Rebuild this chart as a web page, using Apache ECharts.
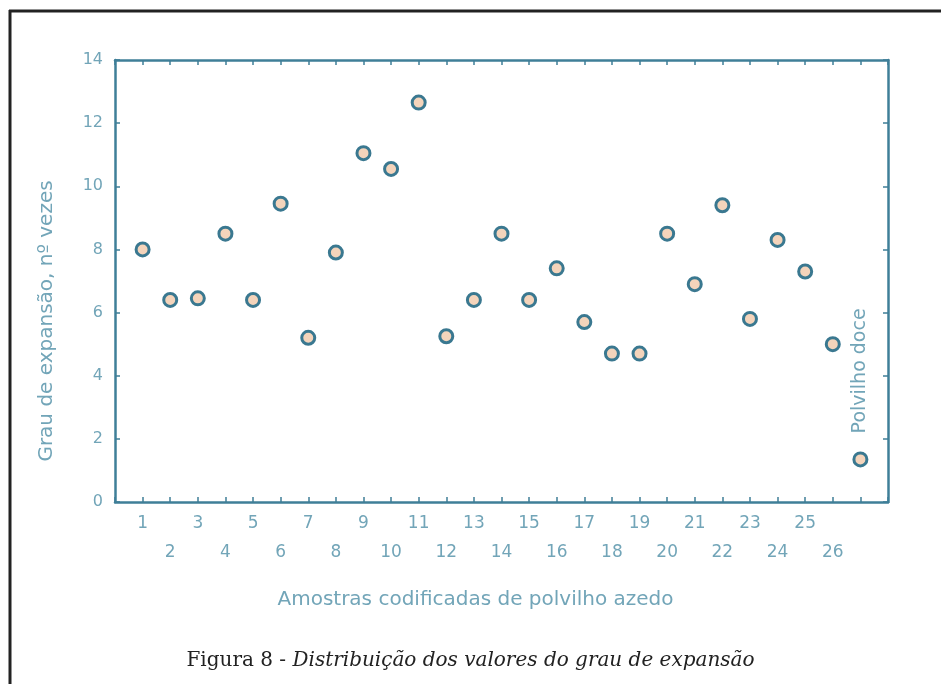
<!DOCTYPE html>
<html>
<head>
<meta charset="utf-8">
<script src="https://cdn.jsdelivr.net/npm/echarts@6/dist/echarts.min.js"></script>
<style>
  html, body { margin: 0; padding: 0; background: #fff; }
  #chart { width: 941px; height: 684px; }
</style>
</head>
<body>
<div id="chart"></div>
<script>
// amostras codificadas de polvilho azedo (1..26) + polvilho doce
const sampleIds = [1, 2, 3, 4, 5, 6, 7, 8, 9, 10, 11, 12, 13, 14, 15, 16, 17, 18, 19, 20, 21, 22, 23, 24, 25, 26];
const expansao = [8.0, 6.4, 6.45, 8.5, 6.4, 9.45, 5.2, 7.9, 11.05, 10.55, 12.65, 5.25, 6.4, 8.5, 6.4, 7.4, 5.7, 4.7, 4.7, 8.5, 6.9, 9.4, 5.8, 8.3, 7.3, 5.0];
const doceX = [27];
const doceValor = [1.35];
const yTicks = [0, 2, 4, 6, 8, 10, 12, 14];

const axisColor = '#3f7f98';
const textColor = '#72a5b8';

const chart = echarts.init(document.getElementById('chart'));

// pontos como pares [x, y]
const azedoData = sampleIds.map((id, i) => [id, expansao[i]]);
const doceData = doceX.map((x, i) => [x, doceValor[i]]);

const frameAxis = {
  axisLine: { show: true, onZero: false, lineStyle: { color: axisColor, width: 2.5 } },
  axisTick: { show: true, inside: true, length: 5, lineStyle: { color: axisColor, width: 1.5 } },
  splitLine: { show: false }
};

chart.setOption({
  animation: false,
  grid: { left: 115, top: 60, right: 53, bottom: 182 },
  graphic: [
    // moldura da figura (so esquerda e topo aparecem)
    { type: 'line', shape: { x1: 10, y1: 10, x2: 10, y2: 684 }, style: { stroke: '#222', lineWidth: 3 } },
    { type: 'line', shape: { x1: 9, y1: 11, x2: 941, y2: 11 }, style: { stroke: '#222', lineWidth: 3 } },
    {
      type: 'text', left: 'center', top: 651,
      style: {
        text: '{n|Figura 8 - }{i|Distribuição dos valores do grau de expansão}',
        rich: {
          n: { fontFamily: 'DejaVu Serif', fontSize: 20, fill: '#222' },
          i: { fontFamily: 'DejaVu Serif', fontStyle: 'italic', fontSize: 20, fill: '#222' }
        }
      }
    }
  ],
  xAxis: [
    Object.assign({
      type: 'value', min: 0, max: 28, interval: 1, position: 'bottom',
      name: 'Amostras codificadas de polvilho azedo',
      nameLocation: 'middle', nameGap: 88,
      nameTextStyle: { color: textColor, fontSize: 20, fontFamily: 'DejaVu Sans', padding: [0, 52, 0, 0] },
      axisLabel: {
        color: textColor, fontSize: 17, fontFamily: 'DejaVu Sans', margin: 7, lineHeight: 29,
        formatter: function (v) {
          if (v < 1 || v > 26) return '';
          return v % 2 === 1 ? String(v) : '\n' + v;
        }
      }
    }, frameAxis),
    Object.assign({
      type: 'value', min: 0, max: 28, interval: 1, position: 'top',
      axisLabel: { show: false }
    }, frameAxis)
  ],
  yAxis: [
    Object.assign({
      type: 'value', min: 0, max: 14, interval: 2, position: 'left',
      name: 'Grau de expansão, nº vezes',
      nameLocation: 'middle', nameGap: 58,
      nameTextStyle: { color: textColor, fontSize: 20, fontFamily: 'DejaVu Sans', padding: [0, 80, 0, 0] },
      axisLabel: {
        color: textColor, fontSize: 16, fontFamily: 'DejaVu Sans', margin: 12,
        formatter: v => (yTicks.indexOf(v) >= 0 ? String(v) : '')
      }
    }, frameAxis),
    Object.assign({
      type: 'value', min: 0, max: 14, interval: 2, position: 'right',
      axisLabel: { show: false }
    }, frameAxis)
  ],
  series: [
    {
      type: 'scatter', data: azedoData, symbol: 'circle', symbolSize: 13,
      itemStyle: { color: '#f4d4bb', borderColor: '#3a7890', borderWidth: 3, opacity: 1 }
    },
    {
      type: 'scatter', data: doceData, symbol: 'circle', symbolSize: 13,
      itemStyle: { color: '#f4d4bb', borderColor: '#3a7890', borderWidth: 3, opacity: 1 },
      label: {
        show: true, formatter: 'Polvilho doce', position: 'top', distance: 18,
        rotate: 90, align: 'left', verticalAlign: 'middle',
        color: textColor, fontSize: 19, fontFamily: 'DejaVu Sans'
      }
    }
  ]
});
</script>
</body>
</html>
